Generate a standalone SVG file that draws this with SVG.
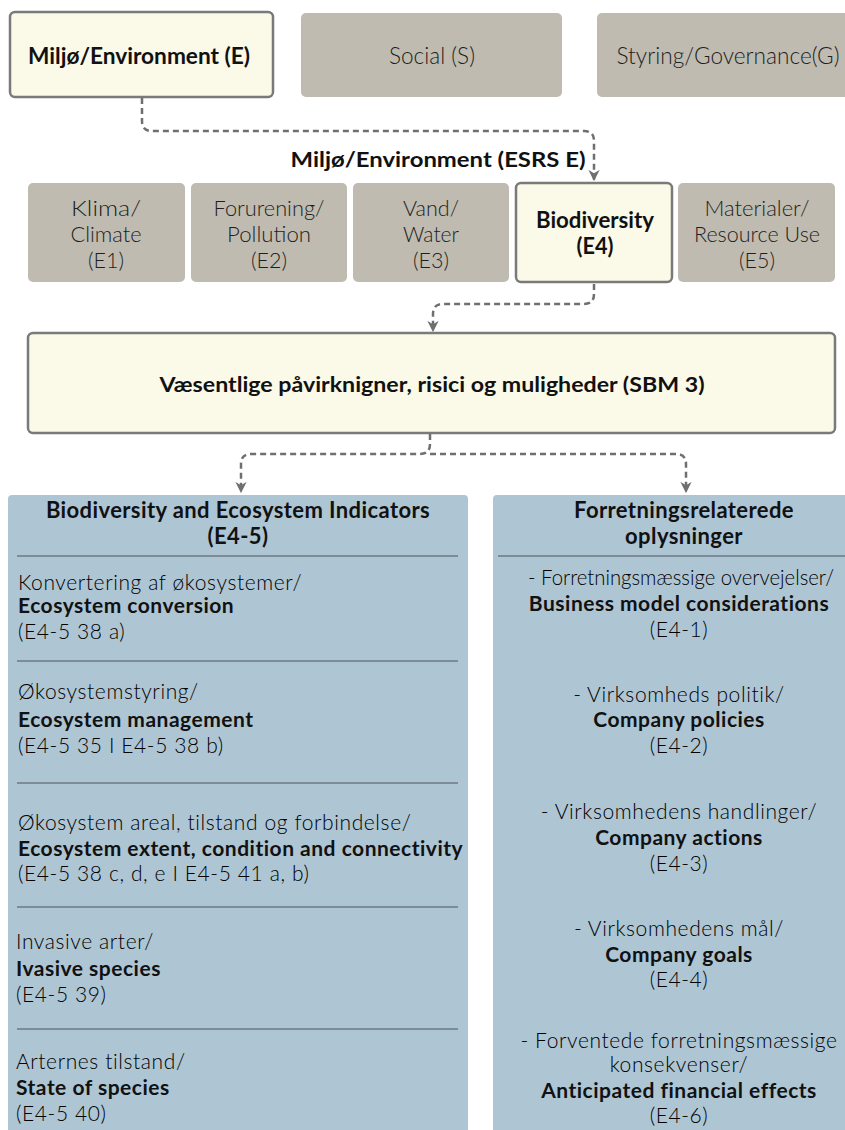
<svg xmlns="http://www.w3.org/2000/svg" width="845" height="1130" viewBox="0 0 845 1130">
  <style>
    .hl { fill: #fbf9e7; stroke: #7a7a7a; stroke-width: 2.5; }
    .gr { fill: #bfbbb0; }
    .pn { fill: #aec5d4; }
    .sep { stroke: #4d555b; stroke-width: 1.2; }
    .con { fill: none; stroke: #6f6f6f; stroke-width: 2.5; stroke-dasharray: 6 4; }
    text { font-family: Lato, "Noto Sans", "Liberation Sans", sans-serif; }
    .b { font-weight: 700; fill: #111; }
    .t { font-weight: 300; fill: #1e1e1e; }
    .l { font-weight: 300; fill: #000; letter-spacing: 0.6px; }
    .bb { font-weight: 700; fill: #111; letter-spacing: 0.5px; }
    .top { font-size: 23px; }
    .row { font-size: 22px; }
    .body { font-size: 21px; }
    .hd { font-size: 22px; font-weight: 700; fill: #111; letter-spacing: 0.4px; }
    .c { text-anchor: middle; }
  </style>
  <defs>
    <marker id="arr" viewBox="0 0 10 10" refX="9" refY="5" markerWidth="4.5" markerHeight="4.5" orient="auto" markerUnits="strokeWidth">
      <path d="M0,0 L10,5 L0,10 L3,5 z" fill="#6f6f6f"/>
    </marker>
  </defs>

  <!-- ESG pillars -->
  <g id="pillar-e">
    <rect class="hl" x="10" y="12" width="263" height="85" rx="5"/>
    <text class="b top" x="139" y="64" text-anchor="middle" textLength="222" lengthAdjust="spacingAndGlyphs">Miljø/Environment (E)</text>
  </g>
  <g id="pillar-s">
    <rect class="gr" x="301" y="13" width="261" height="84" rx="5"/>
    <text class="t top" x="432" y="64" text-anchor="middle" textLength="86" lengthAdjust="spacingAndGlyphs">Social (S)</text>
  </g>
  <g id="pillar-g">
    <rect class="gr" x="597" y="13" width="270" height="84" rx="5"/>
    <text class="t top" x="728" y="64" text-anchor="middle" textLength="223" lengthAdjust="spacingAndGlyphs">Styring/Governance(G)</text>
  </g>

  <!-- ESRS E heading -->
  <g id="esrs-e-label">
    <text class="b" font-size="21" x="438" y="167" text-anchor="middle" textLength="295" lengthAdjust="spacingAndGlyphs">Miljø/Environment (ESRS E)</text>
  </g>

  <!-- Environmental topics -->
  <g id="topic-e1">
    <rect class="gr" x="28" y="183" width="157" height="99" rx="5"/>
    <text class="t row c" x="106" y="216" textLength="70" lengthAdjust="spacingAndGlyphs">Klima/</text>
    <text class="t row c" x="106" y="242" textLength="71" lengthAdjust="spacingAndGlyphs">Climate</text>
    <text class="t row c" x="106" y="268" textLength="36" lengthAdjust="spacingAndGlyphs">(E1)</text>
  </g>
  <g id="topic-e2">
    <rect class="gr" x="191" y="183" width="156" height="99" rx="5"/>
    <text class="t row c" x="269" y="216" textLength="111" lengthAdjust="spacingAndGlyphs">Forurening/</text>
    <text class="t row c" x="269" y="242" textLength="84" lengthAdjust="spacingAndGlyphs">Pollution</text>
    <text class="t row c" x="269" y="268" textLength="36" lengthAdjust="spacingAndGlyphs">(E2)</text>
  </g>
  <g id="topic-e3">
    <rect class="gr" x="353" y="183" width="156" height="99" rx="5"/>
    <text class="t row c" x="431" y="216" textLength="56" lengthAdjust="spacingAndGlyphs">Vand/</text>
    <text class="t row c" x="431" y="242" textLength="56" lengthAdjust="spacingAndGlyphs">Water</text>
    <text class="t row c" x="431" y="268" textLength="36" lengthAdjust="spacingAndGlyphs">(E3)</text>
  </g>
  <g id="topic-e4">
    <rect class="hl" x="516" y="183" width="156" height="99" rx="5"/>
    <text class="b row c" x="595" y="228" textLength="118" lengthAdjust="spacingAndGlyphs">Biodiversity</text>
    <text class="b row c" x="595" y="254" textLength="37" lengthAdjust="spacingAndGlyphs">(E4)</text>
  </g>
  <g id="topic-e5">
    <rect class="gr" x="678" y="183" width="157" height="99" rx="5"/>
    <text class="t row c" x="757" y="216" textLength="105" lengthAdjust="spacingAndGlyphs">Materialer/</text>
    <text class="t row c" x="757" y="242" textLength="126" lengthAdjust="spacingAndGlyphs">Resource Use</text>
    <text class="t row c" x="757" y="268" textLength="36" lengthAdjust="spacingAndGlyphs">(E5)</text>
  </g>

  <!-- SBM 3 -->
  <g id="sbm3">
    <rect class="hl" x="28" y="333" width="807" height="100" rx="5"/>
    <text class="b c" font-size="21" x="432" y="392" textLength="545" lengthAdjust="spacingAndGlyphs">Væsentlige påvirknigner, risici og muligheder (SBM 3)</text>
  </g>

  <!-- Indicators panel -->
  <g id="indicators">
    <rect class="pn" x="8" y="495" width="460" height="660" rx="4"/>
    <text class="hd c" x="238" y="518">Biodiversity and Ecosystem Indicators</text>
    <text class="hd c" x="238" y="544">(E4-5)</text>
    <line class="sep" x1="17" y1="556" x2="458" y2="556"/>

    <text class="l body" x="18" y="590">Konvertering af økosystemer/</text>
    <text class="bb body" x="18" y="613">Ecosystem conversion</text>
    <text class="l body" x="18" y="639">(E4-5 38 a)</text>
    <line class="sep" x1="17" y1="661" x2="458" y2="661"/>

    <text class="l body" x="18" y="699">Økosystemstyring/</text>
    <text class="bb body" x="18" y="727">Ecosystem management</text>
    <text class="l body" x="18" y="753">(E4-5 35 I E4-5 38 b)</text>
    <line class="sep" x1="17" y1="783" x2="458" y2="783"/>

    <text class="l body" x="18" y="830">Økosystem areal, tilstand og forbindelse/</text>
    <text class="bb body" x="18" y="856">Ecosystem extent, condition and connectivity</text>
    <text class="l body" x="18" y="881">(E4-5 38 c, d, e I E4-5 41 a, b)</text>
    <line class="sep" x1="17" y1="907" x2="458" y2="907"/>

    <text class="l body" x="16" y="949">Invasive arter/</text>
    <text class="bb body" x="16" y="976">Ivasive species</text>
    <text class="l body" x="16" y="1002">(E4-5 39)</text>
    <line class="sep" x1="17" y1="1029" x2="458" y2="1029"/>

    <text class="l body" x="16" y="1069">Arternes tilstand/</text>
    <text class="bb body" x="16" y="1095">State of species</text>
    <text class="l body" x="16" y="1121">(E4-5 40)</text>
  </g>

  <!-- Business disclosures panel -->
  <g id="business">
    <rect class="pn" x="493" y="495" width="380" height="660" rx="4"/>
    <text class="hd c" x="684" y="518">Forretningsrelaterede</text>
    <text class="hd c" x="684" y="544">oplysninger</text>
    <line class="sep" x1="498" y1="556" x2="845" y2="556"/>

    <text class="body c" x="681" y="585" font-weight="300" fill="#000" textLength="306" lengthAdjust="spacingAndGlyphs">- Forretningsmæssige overvejelser/</text>
    <text class="bb body c" x="679" y="611">Business model considerations</text>
    <text class="l body c" x="679" y="637">(E4-1)</text>

    <text class="l body c" x="679" y="702">- Virksomheds politik/</text>
    <text class="bb body c" x="679" y="727">Company policies</text>
    <text class="l body c" x="679" y="753">(E4-2)</text>

    <text class="l body c" x="679" y="819">- Virksomhedens handlinger/</text>
    <text class="bb body c" x="679" y="845">Company actions</text>
    <text class="l body c" x="679" y="871">(E4-3)</text>

    <text class="l body c" x="679" y="936">- Virksomhedens mål/</text>
    <text class="bb body c" x="679" y="962">Company goals</text>
    <text class="l body c" x="679" y="987">(E4-4)</text>

    <text class="l body c" x="679" y="1048">- Forventede forretningsmæssige</text>
    <text class="l body c" x="679" y="1072">konsekvenser/</text>
    <text class="bb body c" x="679" y="1098">Anticipated financial effects</text>
    <text class="l body c" x="679" y="1123">(E4-6)</text>
  </g>

  <!-- Connectors -->
  <g id="connectors">
    <path class="con" d="M142,98 V121 Q142,131 152,131 H584 Q594,131 594,141 V180" marker-end="url(#arr)"/>
    <path class="con" d="M594,284 V294 Q594,304 584,304 H443 Q433,304 433,314 V331" marker-end="url(#arr)"/>
    <path class="con" d="M430,434 V444 Q430,454 420,454 H251 Q241,454 241,464 V492" marker-end="url(#arr)"/>
    <path class="con" d="M430,454 H676 Q686,454 686,464 V492" marker-end="url(#arr)"/>
  </g>
</svg>
